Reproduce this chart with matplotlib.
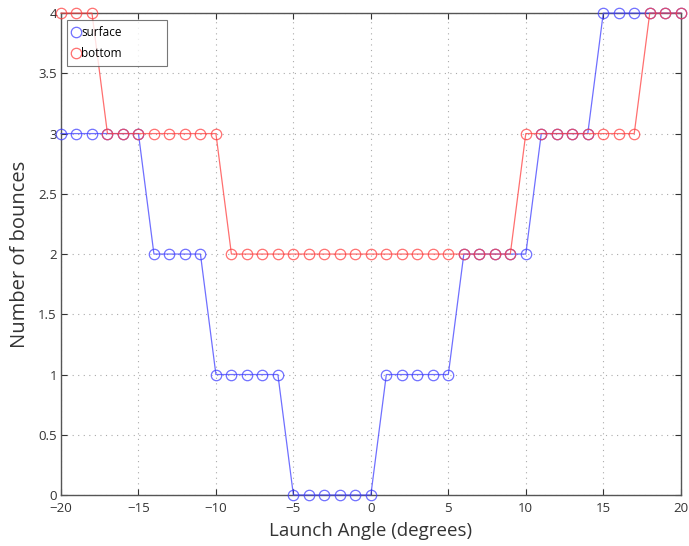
import matplotlib
matplotlib.use("Agg")
import matplotlib.pyplot as plt
import numpy as np

angles = list(range(-20, 21))
surface = [3, 3, 3, 3, 3, 3, 2, 2, 2, 2, 1, 1, 1, 1, 1, 0, 0, 0, 0, 0, 0,
           1, 1, 1, 1, 1, 2, 2, 2, 2, 2, 3, 3, 3, 3, 4, 4, 4, 4, 4, 4]
bottom = [4, 4, 4, 3, 3, 3, 3, 3, 3, 3, 3, 2, 2, 2, 2, 2, 2, 2, 2, 2, 2,
          2, 2, 2, 2, 2, 2, 2, 2, 2, 3, 3, 3, 3, 3, 3, 3, 3, 4, 4, 4]
xticks = [-20, -15, -10, -5, 0, 5, 10, 15, 20]
yticks = [0, 0.5, 1, 1.5, 2, 2.5, 3, 3.5, 4]
ytick_labels = ["0", "0.5", "1", "1.5", "2", "2.5", "3", "3.5", "4"]

plt.rcParams['font.family'] = ['Open Sans', 'DejaVu Sans']

fig = plt.figure(figsize=(6.89, 5.46), dpi=100)
ax = fig.add_axes([0.0885, 0.0934, 0.8995, 0.8826])

ax.plot(angles, surface, color=(0.25, 0.25, 1.0), alpha=0.75, lw=0.9,
        marker='o', mfc='none', ms=7.5, mew=0.9, label='surface', clip_on=False, zorder=3)
ax.plot(angles, bottom, color=(1.0, 0.25, 0.25), alpha=0.75, lw=0.9,
        marker='o', mfc='none', ms=7.5, mew=0.9, label='bottom', clip_on=False, zorder=3)

ax.set_xlim(-20, 20)
ax.set_ylim(0, 4)
ax.set_xticks(xticks)
ax.set_xticklabels([str(t).replace('-', '\u2212') for t in xticks])
ax.set_yticks(yticks)
ax.set_yticklabels(ytick_labels)
ax.tick_params(direction='in', length=4, width=0.8, labelsize=9.5, colors='#333333',
               top=True, right=True)
ax.tick_params(axis='x', pad=5)
ax.tick_params(axis='y', pad=3)
ax.grid(True, linestyle=(0, (1, 4)), color='#aaaaaa', lw=0.8)
for s in ax.spines.values():
    s.set_color('#555555')
    s.set_linewidth(1.0)

ax.set_xlabel('Launch Angle (degrees)', fontsize=13.5, color='#333333', labelpad=5)
ax.set_ylabel('Number of bounces', fontsize=14.5, color='#333333', labelpad=6)

leg = ax.legend(loc='upper left', bbox_to_anchor=(0.0097, 0.906, 0.161, 0.079),
                mode='expand', fontsize=8.5,
                frameon=True, fancybox=False, edgecolor='#555555', handlelength=0.6,
                handletextpad=0.1, borderpad=0.5, labelspacing=0.7, borderaxespad=0.0)
leg.get_frame().set_linewidth(0.8)
for h in leg.legend_handles:
    h.set_linestyle('none')

fig.savefig('out.png', dpi=100)
